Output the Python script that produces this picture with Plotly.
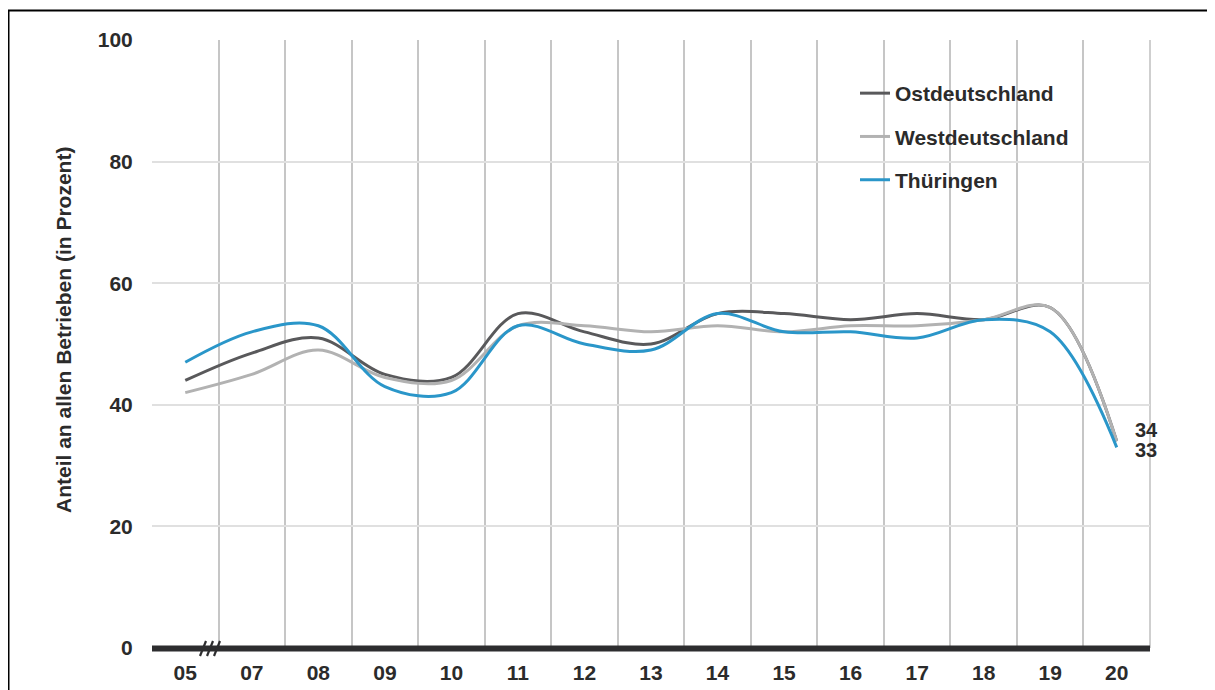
import plotly.graph_objects as go

# ---- data ----
years = ["05", "07", "08", "09", "10", "11", "12", "13", "14", "15", "16", "17", "18", "19", "20"]
ost = [44, 48.5, 51, 45, 44.5, 55, 52, 50, 55, 55, 54, 55, 54, 56, 34]
west = [42, 45, 49, 44.5, 44, 53, 53, 52, 53, 52, 53, 53, 54, 56, 34]
thueringen = [47, 52, 53, 43, 42, 53, 50, 49, 55, 52, 52, 51, 54, 52, 33]
y_ticks = [0, 20, 40, 60, 80, 100]
y_title = "Anteil an allen Betrieben (in Prozent)"

# ---- layout geometry (page pixels; the page body adds an 8px offset) ----
OFF = 8
W, H = 1215, 690
PL, PR, PT, PB = 152, 1150, 40, 648          # plot box on the page
L, T = PL - OFF, PT - OFF
R = W - (PR - OFF)
B = H - (PB - OFF)
PW, PH = PR - PL, PB - PT


def px(xp):
    return (xp - PL) / PW


def py(yp):
    return (PB - yp) / PH


def cat_px(i):
    return PL + PW * (i + 0.5) / len(years)


FONT = "Liberation Sans, Arial, sans-serif"
TXT = "#2b2b2b"
FS = 21

fig = go.Figure()
series = [
    ("Ostdeutschland", ost, "#59595b"),
    ("Westdeutschland", west, "#b2b2b2"),
    ("Thüringen", thueringen, "#2a96c9"),
]
for i, (name, vals, col) in enumerate(series):
    fig.add_trace(go.Scatter(
        x=years, y=vals, name=name, mode="lines",
        line=dict(color=col, width=3, shape="spline", smoothing=1.0),
        legendgroup=f"g{i}", hoverinfo="skip",
    ))

fig.update_layout(
    width=W, height=H,
    margin=dict(l=L, r=R, t=T, b=B, autoexpand=False),
    paper_bgcolor="white", plot_bgcolor="white",
    font=dict(family=FONT, color=TXT, size=FS),
    showlegend=True,
    legend=dict(
        x=px(855), y=py(73), xanchor="left", yanchor="top",
        bgcolor="rgba(0,0,0,0)", borderwidth=0,
        font=dict(family=FONT, size=FS, color=TXT, weight="bold"),
        traceorder="grouped", tracegroupgap=13,
    ),
    xaxis=dict(
        type="category", categoryorder="array", categoryarray=years,
        range=[-0.5, len(years) - 0.5],
        tickson="boundaries", showgrid=True, gridcolor="#c6c6c6", gridwidth=1.5,
        ticks="outside", ticklen=24, tickcolor="rgba(0,0,0,0)",
        ticklabelstandoff=10,
        showline=False, zeroline=False, automargin=False,
        tickfont=dict(family=FONT, size=FS, color=TXT, weight="bold"),
        fixedrange=True,
    ),
    yaxis=dict(
        range=[0, 100], tickvals=y_ticks, ticktext=[str(v) for v in y_ticks],
        showgrid=True, gridcolor="#e0e0e0", gridwidth=2,
        ticks="outside", ticklen=14, tickcolor="rgba(0,0,0,0)",
        showline=False, zeroline=False, automargin=False,
        tickfont=dict(family=FONT, size=FS, color=TXT, weight="bold"),
        fixedrange=True,
    ),
)

shapes = []
# right plot edge line
shapes.append(dict(type="line", xref="paper", yref="paper", x0=1, x1=1, y0=0, y1=1,
                   line=dict(color="#cfcfcf", width=2), layer="below"))
# thick baseline
shapes.append(dict(type="line", xref="paper", yref="paper", x0=0, x1=1, y0=py(648.5), y1=py(648.5),
                   line=dict(color="#2d2d2f", width=6)))
# axis break marks
for xb in (200, 207, 214):
    shapes.append(dict(type="line", xref="paper", yref="paper",
                       x0=px(xb), y0=py(656), x1=px(xb + 6), y1=py(641),
                       line=dict(color="#2d2d2f", width=2.2)))
# outer frame
shapes.append(dict(type="rect", xref="paper", yref="paper",
                   x0=px(8.5), y0=py(720), x1=px(1240), y1=py(10.5),
                   line=dict(color="black", width=2), fillcolor="rgba(0,0,0,0)"))
fig.update_layout(shapes=shapes)

end_x = px(cat_px(len(years) - 1))
annotations = [
    dict(text=f"<b>{y_title}</b>", xref="paper", yref="paper", x=px(63), y=py(330),
         textangle=-90, showarrow=False, font=dict(family=FONT, size=FS, color=TXT),
         xanchor="center", yanchor="middle"),
    dict(text=f"<b>{ost[-1]:g}</b>", x=end_x, y=ost[-1], xref="paper", yref="y",
         showarrow=False, xanchor="left", yanchor="middle", xshift=16, yshift=11,
         font=dict(family=FONT, size=20, color=TXT)),
    dict(text=f"<b>{thueringen[-1]:g}</b>", x=end_x, y=thueringen[-1], xref="paper", yref="y",
         showarrow=False, xanchor="left", yanchor="middle", xshift=16, yshift=-3,
         font=dict(family=FONT, size=20, color=TXT)),
]
fig.update_layout(annotations=annotations)

fig.write_html("out.html")
